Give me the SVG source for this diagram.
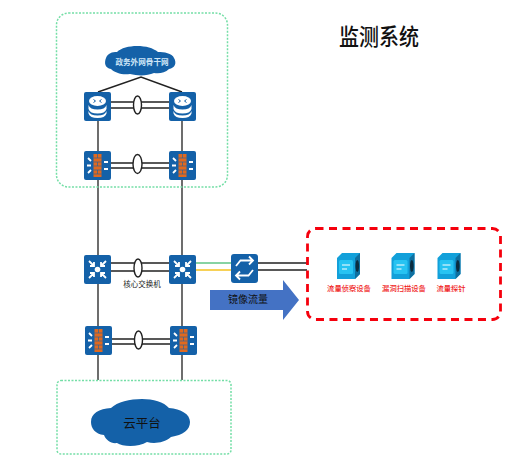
<svg xmlns="http://www.w3.org/2000/svg" width="510" height="464" viewBox="0 0 510 464">
<style>
text{font-family:"Noto Sans CJK SC","Liberation Sans",sans-serif;text-anchor:middle}
.zone{fill:none;stroke:#74dea6;stroke-width:1.500;stroke-dasharray:2 1.500}
.tile{fill:#1461a8}
.w{fill:none;stroke:#fff;stroke-width:1.800}
.wf{fill:#fff}
.l{fill:none;stroke:#222;stroke-width:1.500}
.v{fill:none;stroke:#555;stroke-width:1.700}
.e{fill:#fff;stroke:#222;stroke-width:1.400}
.lb{font-size:7.300px;font-weight:500;fill:#f01c1c}
.brick{fill:#e0691f}
.cube{fill:#12a0da}
</style>
<defs>
<g id="router">
<rect class="tile" width="27" height="29" rx="2"/>
<ellipse class="wf" cx="13.500" cy="9" rx="8.500" ry="5"/>
<path d="M9.500 7.500l2 1.500-2 1.500M17.500 7.500l-2 1.500 2 1.500" stroke="#1461a8" fill="none" stroke-width="1"/>
<path d="M4.500 13c1 3 4 4.500 9 4.500s8-1.500 9-4.500v4c-1 3-4 4.500-9 4.500s-8-1.500-9-4.500z" class="wf"/>
<path d="M4.500 19c1 3 4 4.500 9 4.500s8-1.500 9-4.500v2.500c-1 3-4 4.500-9 4.500s-8-1.500-9-4.500z" class="wf"/>
</g>
<g id="fw">
<rect class="tile" width="27" height="29" rx="2"/>
<rect class="brick" x="9.500" y="3" width="8" height="23"/>
<path d="M9.500 7h8M9.500 11h8M9.500 15h8M9.500 19h8M9.500 23h8M13.500 3v4M13.500 11v4M13.500 19v4" stroke="#1461a8" stroke-width=".6"/>
<path d="M4 7l3 3M3 14.500h4M4 22l3-3M20 11h4M20 18h4" class="w" stroke-width="1.400"/>
</g>
<g id="core">
<rect class="tile" width="27" height="29" rx="2"/>
<circle class="wf" cx="13.500" cy="14.500" r="2.800"/>
<path d="M5 6l5 5M10 7v4H6M22 6l-5 5M17 7v4h4M5 23l5-5M6 18h4v4M22 23l-5-5M21 18h-4v4" class="w"/>
</g>
<g id="dev">
<path class="cube" d="M0 5l5-5h18v21l-5 5H0z"/>
<path d="M18 5l5-5v21l-5 5z" fill="#0f6f9f"/>
<ellipse cx="20.300" cy="13" rx="1.800" ry="6" fill="#0a2c3f"/>
<rect x="2" y="7" width="14" height="14" rx="1.500" fill="#27c3f2"/>
<path d="M5 12h8M5 16h5" stroke="#fff" stroke-width="1"/>
</g>
</defs>
<g id="connectors">
<path class="v" d="M98 121V380M182 121V380"/>
<path class="l" d="M98 92L141 77L182 92"/>
<path class="l" d="M111 102H169M111 108H169M111 163H169M111 168H169M111 263H169M111 271H169M112 339H170M112 344H170M258 263H307M258 270H307"/>
<path d="M196 263H231" stroke="#5fc585" stroke-width="1.500"/>
<path d="M196 270H231" stroke="#f5c21f" stroke-width="1.500"/>
<ellipse class="e" cx="137.500" cy="105" rx="4" ry="9"/>
<ellipse class="e" cx="137.500" cy="164" rx="4.500" ry="9.500"/>
<ellipse class="e" cx="138" cy="268" rx="4" ry="9"/>
<ellipse class="e" cx="138.500" cy="340" rx="4" ry="9"/>
</g>
<g id="zone-top"><rect class="zone" x="56.500" y="13" width="171" height="174" rx="12"/></g>
<g id="zone-bottom"><rect class="zone" x="57" y="380.500" width="174" height="73.500" rx="4"/></g>
<g id="zone-monitor"><rect x="307.500" y="228.500" width="193" height="91" rx="8" fill="none" stroke="#f5000d" stroke-width="2.800" stroke-dasharray="8 5.500"/></g>
<g id="title"><text transform="translate(379 45) scale(1 1.150)" font-size="20" font-weight="500" fill="#111">监测系统</text></g>
<g id="cloud-top">
<path class="tile" d="M111 69c-6-1-7-6-5-11s6-6 11-6c4-4 12-6 20-6 9 0 16 2 21 6 6 0 14 1 16 6 3 5 1 10-5 11-4 4-10 5-15 4-7 3-16 3-24 1-8 1-15-1-19-5z"/>
<text x="142" y="64.500" font-size="7.600" font-weight="700" fill="#cfe6f7">政务外网骨干网</text>
</g>
<g id="cloud-bottom">
<path class="tile" d="M104 435c-9-1-13-7-13-13 0-9 8-13 20-14 6-6 19-9 31-9 11 0 22 3 27 9 12 1 21 6 21 14s-7 13-19 15c-7 6-17 7-24 5-8 5-24 5-30 1-6 1-11-3-13-8z"/>
<text x="142" y="427.500" font-size="12.500" fill="#111">云平台</text>
</g>
<g id="rt-l"><use href="#router" x="84" y="92"/></g>
<g id="rt-r"><use href="#router" x="169" y="92"/></g>
<g id="fw-tl"><use href="#fw" x="84" y="151"/></g>
<g id="fw-tr"><use href="#fw" x="169" y="151"/></g>
<g id="core-l"><use href="#core" x="84" y="255"/></g>
<g id="core-r"><use href="#core" x="169" y="255"/><text x="142" y="287" font-size="7.500" fill="#222">核心交换机</text></g>
<g id="fw-bl"><use href="#fw" x="85" y="326"/></g>
<g id="fw-br"><use href="#fw" x="170" y="326"/></g>
<g id="switch">
<rect class="tile" x="231" y="254" width="27" height="29" rx="3"/>
<path class="w" stroke-width="1.500" d="M236 266L240.500 260.500H253M249 256.500L253 260.500L249 264.500M253 270L248.500 275.500H236M240 271.500L236 275.500L240 279.500"/>
</g>
<g id="mirror">
<path d="M210 290H283V280L299 300L283 320V310H210z" fill="#4472c4"/>
<text x="248" y="303" font-size="10" fill="#111">镜像流量</text>
</g>
<g id="dev-1"><use href="#dev" x="337" y="253"/><text class="lb" x="349" y="291">流量侦察设备</text></g>
<g id="dev-2"><use href="#dev" x="391.500" y="253"/><text class="lb" x="404" y="291">漏洞扫描设备</text></g>
<g id="dev-3"><use href="#dev" x="437.500" y="253"/><text class="lb" x="451" y="291">流量探针</text></g>
</svg>
